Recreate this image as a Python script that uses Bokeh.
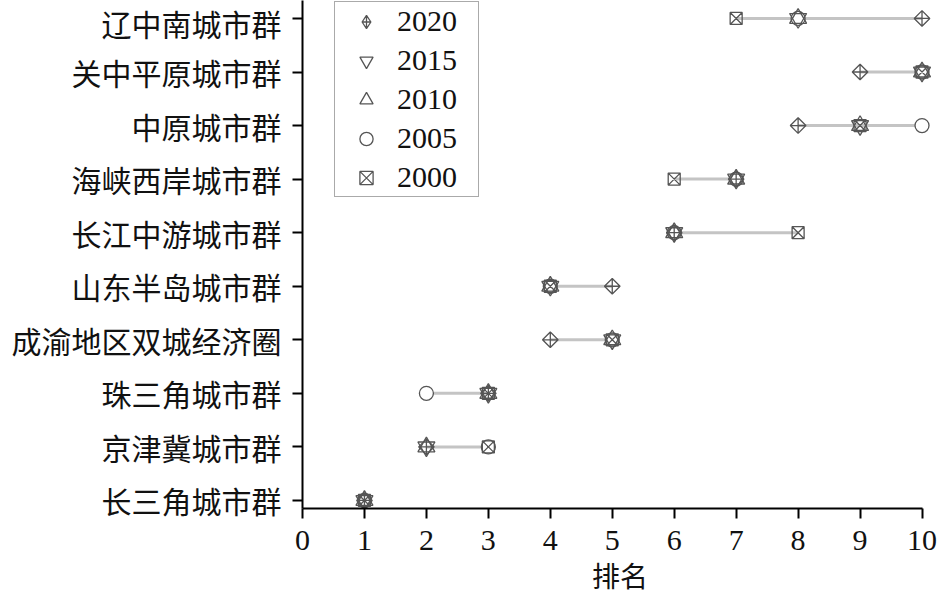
import numpy as np
from bokeh.plotting import figure
from bokeh.models import Legend, LegendItem, ColumnDataSource
from bokeh.embed import file_html
from bokeh.resources import INLINE

# data (rows listed bottom to top)
regions = ["长三角城市群", "京津冀城市群", "珠三角城市群", "成渝地区双城经济圈", "山东半岛城市群",
           "长江中游城市群", "海峡西岸城市群", "中原城市群", "关中平原城市群", "辽中南城市群"]
r2020 = [1, 2, 3, 4, 5, 6, 7, 8, 9, 10]
r2015 = [1, 2, 3, 5, 4, 6, 7, 9, 10, 8]
r2010 = [1, 2, 3, 5, 4, 6, 7, 9, 10, 8]
r2005 = [1, 3, 2, 5, 4, 6, 7, 10, 10, 8]
r2000 = [1, 3, 3, 5, 4, 8, 6, 9, 10, 7]
x_ticks = list(range(0, 11))

ypos = list(range(len(regions)))
allv = np.array([r2020, r2015, r2010, r2005, r2000])
src = ColumnDataSource(dict(y=ypos, lo=allv.min(axis=0), hi=allv.max(axis=0),
                            r2020=r2020, r2015=r2015, r2010=r2010, r2005=r2005, r2000=r2000))

p = figure(width=937, height=597, output_backend="svg", toolbar_location=None,
           x_range=(0, 10.25), y_range=(-0.15, 9.335),
           min_border_left=302, min_border_right=0, min_border_top=0, min_border_bottom=88)

p.segment(x0="lo", x1="hi", y0="y", y1="y", source=src, line_color="#c4c4c4", line_width=3)

mc = "#555555"
lw = 1.3
c05 = p.scatter(x="r2005", y="y", source=src, marker="circle", size=14,
                line_color=mc, line_width=lw, fill_color="white")
c00 = p.scatter(x="r2000", y="y", source=src, marker="square_x", size=12,
                line_color=mc, line_width=lw, fill_alpha=0)
c10 = p.scatter(x="r2010", y="y", source=src, marker="triangle", size=17,
                line_color=mc, line_width=lw, fill_alpha=0)
c15 = p.scatter(x="r2015", y="y", source=src, marker="inverted_triangle", size=17,
                line_color=mc, line_width=lw, fill_alpha=0)
c20 = p.scatter(x="r2020", y="y", source=src, marker="square_x", size=11, angle=np.pi / 4,
                line_color=mc, line_width=lw, fill_alpha=0)
# legend-only glyph for 2020 (legend swatches ignore marker rotation)
c20_leg = p.scatter(x=[np.nan], y=[np.nan], marker="diamond_cross", size=19,
                    line_color=mc, line_width=lw, fill_alpha=0)

legend = Legend(items=[LegendItem(label="2020", renderers=[c20_leg]),
                       LegendItem(label="2015", renderers=[c15]),
                       LegendItem(label="2010", renderers=[c10]),
                       LegendItem(label="2005", renderers=[c05]),
                       LegendItem(label="2000", renderers=[c00])],
                location=(32, 311), orientation="vertical",
                label_text_font="Liberation Serif", label_text_font_size="30px",
                label_text_color="#111111",
                glyph_width=58, glyph_height=33, label_height=33, label_width=79,
                spacing=5, padding=2,
                label_standoff=2, border_line_color="#555555", border_line_width=1.5,
                background_fill_color="white", background_fill_alpha=1)
p.add_layout(legend, "center")

p.grid.visible = False
p.outline_line_color = None

p.xaxis.ticker = x_ticks
p.xaxis.bounds = (0, 10)
p.yaxis.ticker = ypos
p.yaxis.major_label_overrides = {i: n for i, n in enumerate(regions)}

for ax in (p.xaxis[0], p.yaxis[0]):
    ax.axis_line_color = "black"
    ax.axis_line_width = 2
    ax.major_tick_line_color = "black"
    ax.major_tick_line_width = 2
    ax.major_tick_in = 0
    ax.major_tick_out = 10
    ax.minor_tick_line_color = None
    ax.major_label_text_color = "#111111"

p.xaxis.major_label_text_font = "Liberation Serif"
p.xaxis.major_label_text_font_size = "30px"
p.xaxis.major_label_standoff = 12
p.xaxis.axis_label = "排名"
p.xaxis.axis_label_text_font = "Noto Sans CJK SC"
p.xaxis.axis_label_text_font_size = "28px"
p.xaxis.axis_label_text_font_style = "normal"
p.xaxis.axis_label_text_color = "#111111"
p.xaxis.axis_label_standoff = 2

p.yaxis.major_label_text_font = "Noto Sans CJK SC"
p.yaxis.major_label_text_font_size = "30px"
p.yaxis.major_label_standoff = 11

open("out.html", "w").write(file_html(p, INLINE))
